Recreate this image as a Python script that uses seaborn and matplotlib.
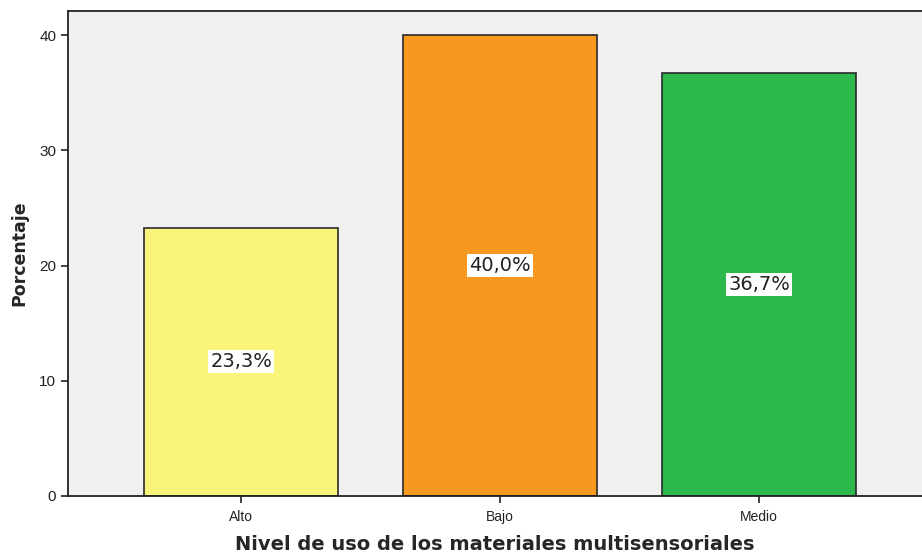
import numpy as np
import pandas as pd
import matplotlib
matplotlib.use("Agg")
import matplotlib.pyplot as plt
import seaborn as sns

# Data
categories = ["Alto", "Bajo", "Medio"]
percentages = [23.3, 40.0, 36.7]
bar_colors = ["#F9F57A", "#F7991F", "#2DB84B"]
y_ticks = [0, 10, 20, 30, 40]

df = pd.DataFrame({"Nivel": categories, "Porcentaje": percentages})

sns.set_style("ticks")
plt.rcParams["font.family"] = ["DejaVu Sans"]

fig = plt.figure(figsize=(9.22, 5.53), dpi=100)
ax = fig.add_axes([0.0738, 0.1031, 0.9262, 0.877])
ax.set_facecolor("#F0F0F0")

sns.barplot(data=df, x="Nivel", y="Porcentaje", hue="Nivel",
            palette=bar_colors, saturation=1, width=0.75,
            edgecolor="#2a2a2a", linewidth=1.2, legend=False, ax=ax,
            zorder=2)

# value labels in the middle of each bar
for i, v in enumerate(percentages):
    txt = ("%.1f%%" % v).replace(".", ",")
    ax.text(i, v / 2, txt, ha="center", va="center", fontsize=14,
            color="#222222",
            bbox=dict(facecolor="white", edgecolor="none", pad=1.5), zorder=3)

ax.set_xlim(-0.67, 2.63)
ax.set_ylim(0, 42.1)
ax.set_yticks(y_ticks)
ax.tick_params(axis="y", labelsize=11, length=5, width=1.2, colors="#222222")
ax.tick_params(axis="x", labelsize=10, length=5, width=1.2, colors="#222222",
               pad=5)
for lab in ax.get_xticklabels() + ax.get_yticklabels():
    lab.set_family("Liberation Sans")

ax.set_xlabel("Nivel de uso de los materiales multisensoriales",
              fontsize=14, fontweight="bold", labelpad=8)
ax.set_ylabel("Porcentaje", fontsize=12.5, fontweight="bold", labelpad=8)

for side in ["left", "top", "bottom"]:
    ax.spines[side].set_visible(True)
    ax.spines[side].set_color("#222222")
    ax.spines[side].set_linewidth(1.3)
ax.spines["right"].set_visible(False)

fig.savefig("out.png", dpi=100)
